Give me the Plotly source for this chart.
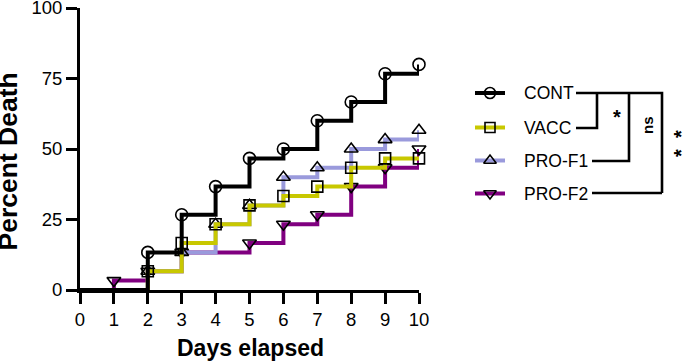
import plotly.graph_objects as go

# ---- data ----
days = [0, 1, 2, 3, 4, 5, 6, 7, 8, 9, 10]
cont = [0, 0, 13.33, 26.67, 36.67, 46.67, 50.0, 60.0, 66.67, 76.67, 80.0]
vacc = [0, 0, 6.67, 16.67, 23.33, 30.0, 33.33, 36.67, 43.33, 46.67, 46.67]
pro_f1 = [0, 0, 6.67, 13.33, 23.33, 30.0, 40.0, 43.33, 50.0, 53.33, 56.67]
pro_f2 = [0, 3.33, 6.67, 13.33, 13.33, 16.67, 23.33, 26.67, 36.67, 43.33, 50.0]
x_ticks = [0, 1, 2, 3, 4, 5, 6, 7, 8, 9, 10]
y_ticks = [0, 25, 50, 75, 100]
series_names = ["CONT", "VACC", "PRO-F1", "PRO-F2"]

W, H = 685, 362
FONT = "Arial, Liberation Sans, sans-serif"

styles = {
    "CONT": dict(color="#000000", symbol="circle-open", msize=12),
    "VACC": dict(color="#C8C800", symbol="square-open", msize=11),
    "PRO-F1": dict(color="#9A9ADC", symbol="triangle-up-open", msize=12),
    "PRO-F2": dict(color="#800080", symbol="triangle-down-open", msize=12),
}
values = {"CONT": cont, "VACC": vacc, "PRO-F1": pro_f1, "PRO-F2": pro_f2}

fig = go.Figure()

# draw order: PRO-F2 bottom ... CONT top
for name in ["PRO-F2", "PRO-F1", "VACC", "CONT"]:
    st = styles[name]
    ys = values[name]
    fig.add_trace(go.Scatter(
        x=days, y=ys, mode="lines", line=dict(color=st["color"], width=4, shape="hv"),
        cliponaxis=False, showlegend=False, hoverinfo="skip"))
    # event markers: where the value changes, plus final point
    idx = [i for i in range(len(days)) if (i > 0 and ys[i] != ys[i - 1]) or i == len(days) - 1]
    fig.add_trace(go.Scatter(
        x=[days[i] for i in idx], y=[ys[i] for i in idx], mode="markers",
        marker=dict(symbol=st["symbol"], size=st["msize"], color="#000000", line=dict(width=1.6)),
        cliponaxis=False, showlegend=False, hoverinfo="skip"))

# ---- legend (pixel overlay axes) ----
leg_rows = [93, 127.5, 160.5, 193.5]
for name, yy in zip(series_names, leg_rows):
    st = styles[name]
    fig.add_trace(go.Scatter(
        x=[475, 505], y=[yy, yy], mode="lines", line=dict(color=st["color"], width=4),
        xaxis="x2", yaxis="y2", showlegend=False, hoverinfo="skip", cliponaxis=False))
    fig.add_trace(go.Scatter(
        x=[490], y=[yy], mode="markers",
        marker=dict(symbol=st["symbol"], size=st["msize"] - 1, color="#000000", line=dict(width=1.6)),
        xaxis="x2", yaxis="y2", showlegend=False, hoverinfo="skip", cliponaxis=False))

annotations = []
for name, yy in zip(series_names, leg_rows):
    annotations.append(dict(x=522, y=yy, xref="x2", yref="y2", text=name, showarrow=False,
                            xanchor="left", yanchor="middle",
                            font=dict(family=FONT, size=17.5, color="black")))

# axis titles
annotations.append(dict(x=250, y=348, xref="x2", yref="y2", text="<b>Days elapsed</b>",
                        showarrow=False, xanchor="center", yanchor="middle",
                        font=dict(family=FONT, size=23, color="black")))
annotations.append(dict(x=7, y=161.5, xref="x2", yref="y2", text="<b>Percent Death</b>",
                        showarrow=False, xanchor="center", yanchor="middle", textangle=-90,
                        font=dict(family=FONT, size=26.5, color="black")))

# significance labels
annotations.append(dict(x=617, y=117, xref="x2", yref="y2", text="<b>*</b>", showarrow=False,
                        xanchor="center", yanchor="middle", font=dict(family=FONT, size=20, color="black")))
annotations.append(dict(x=647, y=125, xref="x2", yref="y2", text="<b>ns</b>", showarrow=False,
                        textangle=-90, xanchor="center", yanchor="middle",
                        font=dict(family=FONT, size=15, color="black")))
annotations.append(dict(x=681, y=144, xref="x2", yref="y2", text="<b>*\u00a0\u00a0*</b>",
                        showarrow=False, textangle=-90, xanchor="center", yanchor="middle",
                        font=dict(family=FONT, size=20, color="black")))

# bracket lines
bl = dict(color="black", width=2.6)
brackets = [
    [(576, 93), (662, 93), (662, 193)],
    [(576, 128), (597, 128), (597, 93)],
    [(592, 161), (629, 161), (629, 93)],
    [(592, 193), (662, 193)],
]
shapes = []
for pts in brackets:
    path = "M" + " L".join(f"{px},{py}" for px, py in pts)
    shapes.append(dict(type="path", path=path, xref="x2", yref="y2", line=bl))

axis_common = dict(showgrid=False, zeroline=False, showline=True, linecolor="black", linewidth=3,
                   ticks="outside", ticklen=11, tickwidth=3, tickcolor="black",
                   ticklabeloverflow="allow",
                   tickfont=dict(family=FONT, size=18.5, color="black"))

fig.update_layout(
    width=W, height=H,
    margin=dict(l=0, r=0, t=0, b=0, autoexpand=False),
    paper_bgcolor="white", plot_bgcolor="rgba(0,0,0,0)",
    showlegend=False,
    xaxis=dict(domain=[80 / W, 419 / W], range=[0, 10], tickvals=x_ticks, anchor="y", **axis_common),
    yaxis=dict(domain=[(H - 290) / H, (H - 8) / H], range=[0, 100], tickvals=y_ticks, anchor="x",
               **axis_common),
    xaxis2=dict(domain=[0, 1], range=[0, W], visible=False, anchor="y2", fixedrange=True),
    yaxis2=dict(domain=[0, 1], range=[H, 0], visible=False, anchor="x2", fixedrange=True),
    annotations=annotations,
    shapes=shapes,
)

fig.write_html("out.html", config={"displayModeBar": False},
               post_script="document.body.style.margin='0px';document.body.style.overflow='hidden';")
